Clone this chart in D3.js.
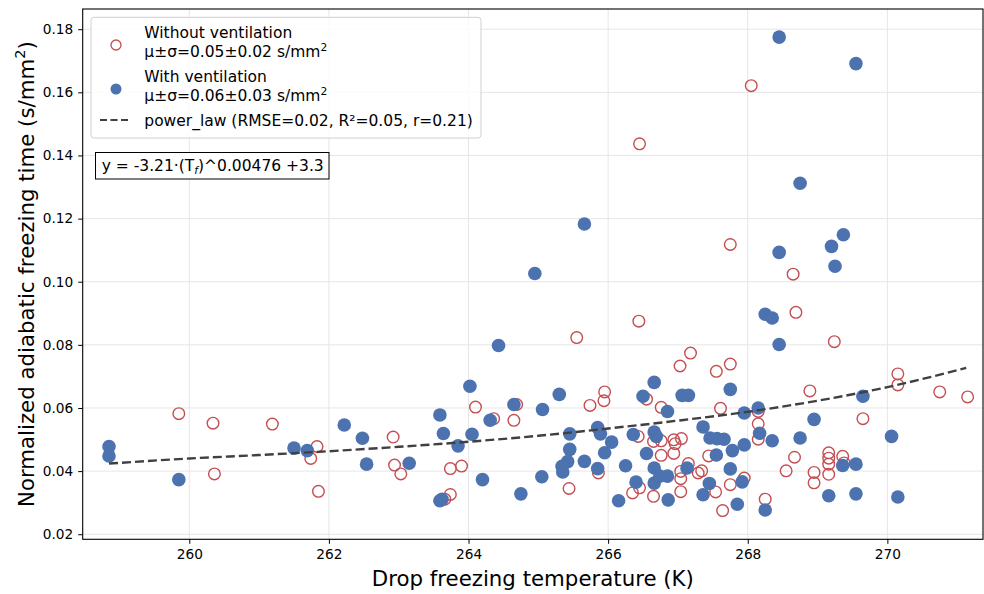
<!DOCTYPE html>
<html><head><meta charset="utf-8">
<script src="https://cdn.jsdelivr.net/npm/d3@7/dist/d3.min.js"></script>
<style>body{margin:0;background:#fff}svg{display:block}text{font-family:"DejaVu Sans",sans-serif}</style>
</head><body><svg id="c" width="984" height="594"></svg>
<script>
// Without ventilation (open red circles)
const noVentT = [259.85,260.34,260.36,261.19,261.83,261.74,261.85,262.92,262.94,263.03,263.74,263.66,263.74,263.90,264.10,264.36,264.65,264.69,265.44,265.55,265.74,265.95,265.94,265.86,266.45,266.44,266.55,266.43,266.35,266.45,266.65,266.65,266.76,266.76,266.76,266.94,266.96,267.05,266.94,267.03,267.18,267.04,267.04,267.04,267.15,267.29,268.05,267.75,268.65,268.69,269.24,267.55,267.75,268.89,267.61,268.15,268.15,268.15,270.15,270.15,270.75,271.15,269.65,268.67,268.55,268.95,268.95,269.16,269.16,269.16,269.16,269.36,269.38,267.44,267.34,267.54,267.64,267.75,267.95,268.25];
const noVentV = [0.0582,0.0552,0.0391,0.0549,0.0478,0.0440,0.0336,0.0508,0.0419,0.0391,0.0326,0.0311,0.0408,0.0416,0.0603,0.0566,0.0561,0.0611,0.0345,0.0823,0.0608,0.0651,0.0623,0.0394,0.1437,0.0875,0.0628,0.0510,0.0331,0.0347,0.0320,0.0494,0.0496,0.0602,0.0450,0.0499,0.0487,0.0503,0.0456,0.0733,0.0774,0.0399,0.0376,0.0335,0.0424,0.0394,0.1621,0.1118,0.1024,0.0903,0.0810,0.0716,0.0739,0.0654,0.0599,0.0589,0.0550,0.0501,0.0708,0.0673,0.0651,0.0635,0.0566,0.0444,0.0401,0.0396,0.0363,0.0458,0.0441,0.0422,0.0390,0.0447,0.0426,0.0448,0.0401,0.0334,0.0275,0.0357,0.0378,0.0311];
// With ventilation (filled blue circles)
const ventT = [258.85,258.85,259.85,261.50,261.69,262.22,262.48,262.54,263.15,263.59,263.64,263.59,263.62,263.85,264.02,264.05,264.20,264.31,264.43,264.65,264.75,264.95,265.06,265.05,265.30,265.45,265.45,265.42,265.34,265.35,265.66,265.66,265.85,265.89,265.85,265.95,266.05,266.15,266.25,266.36,266.40,266.50,266.55,266.66,266.66,266.69,266.66,266.66,266.74,266.85,266.86,266.85,267.06,267.15,267.13,268.45,269.55,268.75,269.37,269.20,268.45,269.25,268.25,268.35,268.45,267.75,267.95,268.15,267.36,268.17,267.46,267.56,267.66,267.95,268.35,268.75,268.95,267.78,267.55,267.75,267.45,267.36,267.92,267.85,268.25,270.06,269.65,269.36,269.55,269.16,269.55,270.15];
const ventV = [0.0478,0.0448,0.0373,0.0473,0.0465,0.0546,0.0504,0.0422,0.0425,0.0578,0.0519,0.0306,0.0311,0.0480,0.0669,0.0517,0.0373,0.0561,0.0798,0.0611,0.0328,0.1026,0.0595,0.0382,0.0643,0.0518,0.0469,0.0430,0.0415,0.0397,0.1183,0.0431,0.0538,0.0518,0.0408,0.0458,0.0492,0.0306,0.0417,0.0516,0.0365,0.0637,0.0456,0.0681,0.0524,0.0510,0.0410,0.0362,0.0384,0.0384,0.0309,0.0589,0.0640,0.0640,0.0410,0.1775,0.1691,0.1312,0.1149,0.1112,0.1093,0.1049,0.0897,0.0885,0.0801,0.0659,0.0584,0.0600,0.0540,0.0520,0.0505,0.0503,0.0501,0.0483,0.0496,0.0505,0.0564,0.0465,0.0451,0.0407,0.0361,0.0325,0.0366,0.0295,0.0277,0.0510,0.0637,0.0418,0.0422,0.0322,0.0328,0.0318];
// Power-law fit curve
const fitT = [258.85,260,261,262,263,264,265,266,267,268,269,270,271.13];
const fitV = [0.0424,0.0440,0.0451,0.0463,0.0477,0.0493,0.0512,0.0535,0.0560,0.0588,0.0623,0.0666,0.0727];
const xTicks = [260,262,264,266,268,270];
const yTicks = [0.02,0.04,0.06,0.08,0.10,0.12,0.14,0.16,0.18];

const svg = d3.select("#c");
const L=82.7, R=983, T=9, B=539.3;
const x = d3.scaleLinear().domain([258.473,271.37]).range([L,R]);
const y = d3.scaleLinear().domain([0.0184,0.1864]).range([B,T]);
const RED="#C44E52", BLUE="#4C72B0";

// grid
const g = svg.append("g");
g.selectAll("line.gx").data(xTicks).join("line").attr("x1",d=>x(d)).attr("x2",d=>x(d)).attr("y1",T).attr("y2",B).attr("stroke","#e6e6e6").attr("stroke-width",1);
g.selectAll("line.gy").data(yTicks).join("line").attr("y1",d=>y(d)).attr("y2",d=>y(d)).attr("x1",L).attr("x2",R).attr("stroke","#e6e6e6").attr("stroke-width",1);

// axes
const xa = svg.append("g").attr("transform",`translate(0,${B})`).call(d3.axisBottom(x).tickValues(xTicks).tickFormat(d3.format("d")).tickSize(4.5).tickPadding(5));
const ya = svg.append("g").attr("transform",`translate(${L},0)`).call(d3.axisLeft(y).tickValues(yTicks).tickFormat(d3.format(".2f")).tickSize(4.5).tickPadding(5));
[xa,ya].forEach(a=>{a.select(".domain").remove();a.selectAll("text").attr("font-size","13.7px").attr("fill","#000").attr("font-family","DejaVu Sans");a.selectAll("line").attr("stroke","#000");});
xa.selectAll("text").attr("dy","0.75em");

// points
const pts = svg.append("g");
pts.selectAll("circle.nv").data(noVentT.map((t,i)=>[t,noVentV[i]])).join("circle")
  .attr("cx",d=>x(d[0])).attr("cy",d=>y(d[1])).attr("r",5.8).attr("fill","none").attr("stroke",RED).attr("stroke-width",1.4);
pts.selectAll("circle.v").data(ventT.map((t,i)=>[t,ventV[i]])).join("circle")
  .attr("cx",d=>x(d[0])).attr("cy",d=>y(d[1])).attr("r",6.8).attr("fill",BLUE);

// fit line
svg.append("path").datum(fitT.map((t,i)=>[t,fitV[i]]))
  .attr("d",d3.line().x(d=>x(d[0])).y(d=>y(d[1])).curve(d3.curveMonotoneX))
  .attr("fill","none").attr("stroke","#404040").attr("stroke-width",2.4).attr("stroke-dasharray","9,4");

// frame
svg.append("rect").attr("x",L).attr("y",T).attr("width",R-L).attr("height",B-T).attr("fill","none").attr("stroke","#000").attr("stroke-width",1.1);

// legend
const lg = svg.append("g");
lg.append("rect").attr("x",91).attr("y",17.3).attr("width",390).attr("height",120.7).attr("rx",3).attr("fill","#fff").attr("fill-opacity",0.8).attr("stroke","#d0d0d0").attr("stroke-width",1);
lg.append("circle").attr("cx",116).attr("cy",45).attr("r",5).attr("fill","none").attr("stroke",RED).attr("stroke-width",1.3);
lg.append("circle").attr("cx",116).attr("cy",89).attr("r",5.5).attr("fill",BLUE);
lg.append("line").attr("x1",100).attr("x2",131).attr("y1",120).attr("y2",120).attr("stroke","#404040").attr("stroke-width",2.2).attr("stroke-dasharray","7,3.5");
const FS="15.5px";
function ltext(yb, parts){
  const t = lg.append("text").attr("x",144.3).attr("y",yb).attr("font-size",FS).attr("fill","#000");
  parts.forEach(p=>{
    const s=t.append("tspan").text(p[0]);
    if(p[1]==="sup") s.attr("font-size","10.7px").attr("dy","-6");
  });
}
ltext(38.3,[["Without ventilation"]]);
ltext(56.7,[["μ±σ=0.05±0.02 s/mm"],["2","sup"]]);
ltext(82,[["With ventilation"]]);
ltext(100.7,[["μ±σ=0.06±0.03 s/mm"],["2","sup"]]);
ltext(125.5,[["power_law (RMSE=0.02, R²=0.05, r=0.21)"]]);

// annotation box
svg.append("rect").attr("x",95.5).attr("y",152.5).attr("width",233.5).attr("height",26.5).attr("fill","#fff").attr("stroke","#000").attr("stroke-width",1);
const at = svg.append("text").attr("x",101.7).attr("y",170.5).attr("font-size",FS).attr("fill","#000");
at.append("tspan").text("y = -3.21·(T");
at.append("tspan").text("f").attr("font-style","italic").attr("font-size","10.7px").attr("dy","3");
at.append("tspan").text(")^0.00476 +3.3").attr("dy","-3");

// axis labels
svg.append("text").attr("x",(L+R)/2).attr("y",586).attr("text-anchor","middle").attr("font-size","21.3px").attr("fill","#000").text("Drop freezing temperature (K)");
const yl = svg.append("text").attr("transform",`translate(34,${(T+B)/2}) rotate(-90)`).attr("text-anchor","middle").attr("font-size","21.3px").attr("fill","#000");
yl.append("tspan").text("Normalized adiabatic freezing time (s/mm");
yl.append("tspan").text("2").attr("font-size","14.5px").attr("dy","-9");
yl.append("tspan").text(")").attr("dy","9");
</script></body></html>
